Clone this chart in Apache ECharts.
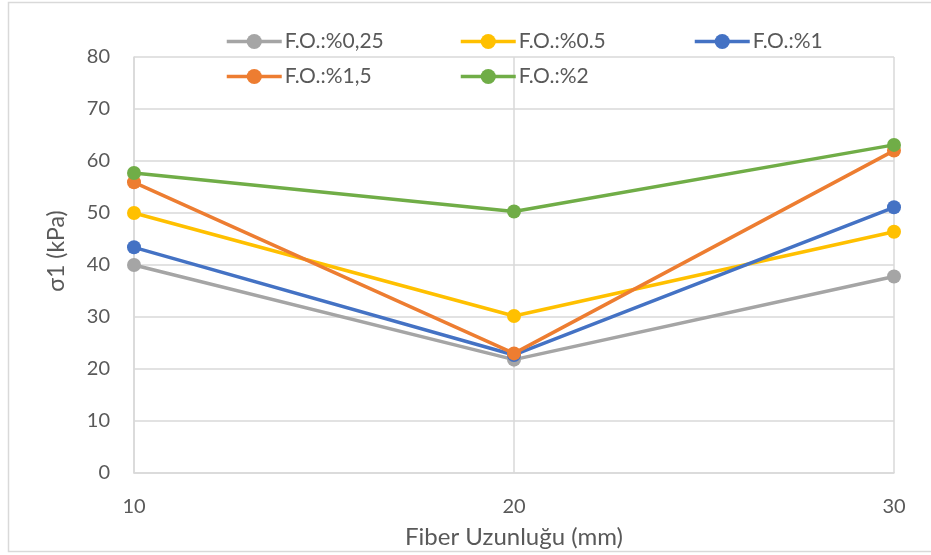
<!DOCTYPE html>
<html>
<head>
<meta charset="utf-8">
<script src="https://cdn.jsdelivr.net/npm/echarts@6/dist/echarts.min.js"></script>
<style>
  html, body { margin: 0; padding: 0; background: #fff; }
  #chart { width: 931px; height: 555px; }
</style>
</head>
<body>
<div id="chart"></div>
<script>
// Fiber length (mm) on the x axis
const fiberLength = [10, 20, 30];

// σ1 (kPa) for each fiber ratio
const fo025 = [40.0, 21.8, 37.8];
const fo05  = [50.0, 30.2, 46.4];
const fo1   = [43.4, 22.7, 51.1];
const fo15  = [55.9, 23.0, 62.0];
const fo2   = [57.7, 50.3, 63.1];

const seriesNames = ['F.O.:%0,25', 'F.O.:%0.5', 'F.O.:%1', 'F.O.:%1,5', 'F.O.:%2'];
const seriesValues = [fo025, fo05, fo1, fo15, fo2];
const colors = ['#A5A5A5', '#FFC000', '#4472C4', '#ED7D31', '#70AD47'];

const FONT = 'Lato';
const TEXT = '#595959';
const GRID = '#D9D9D9';

// legend slots: three columns, two rows
const legendCols = [225, 459, 693];
const legendRows = [31, 66];

const chart = echarts.init(document.getElementById('chart'), null, { renderer: 'canvas' });

const series = seriesNames.map((name, i) => ({
  name: name,
  type: 'line',
  data: fiberLength.map((x, j) => [x, seriesValues[i][j]]),
  symbol: 'circle',
  symbolSize: 14,
  lineStyle: { width: 3.5, color: colors[i] },
  itemStyle: { color: colors[i] },
  emphasis: { disabled: true },
  z: 2 + i
}));

const legends = seriesNames.map((name, i) => ({
  data: [name],
  left: legendCols[i % 3],
  top: legendRows[Math.floor(i / 3)],
  padding: 0,
  itemWidth: 55,
  itemHeight: 19,
  itemGap: 0,
  selectedMode: false,
  lineStyle: { width: 3.5 },
  textStyle: { fontFamily: FONT, fontSize: 21, color: TEXT, padding: [0, 0, 0, -2] }
}));

chart.setOption({
  animation: false,
  backgroundColor: '#fff',
  color: colors,
  graphic: [{
    type: 'rect',
    shape: { x: 8.5, y: 2.5, width: 940, height: 549 },
    style: { fill: 'none', stroke: '#D9D9D9', lineWidth: 1.5 },
    silent: true,
    z: -10
  }],
  legend: legends,
  grid: { left: 134, right: 37, top: 57, bottom: 82, containLabel: false },
  xAxis: {
    type: 'value',
    min: 10, max: 30, interval: 10,
    name: 'Fiber Uzunluğu (mm)',
    nameLocation: 'middle',
    nameGap: 52,
    nameTextStyle: { fontFamily: FONT, fontSize: 24, color: TEXT },
    axisLine: { show: true, lineStyle: { color: GRID, width: 1.5 } },
    axisTick: { show: false },
    axisLabel: { fontFamily: FONT, fontSize: 20, color: TEXT, margin: 24 },
    splitLine: { show: true, lineStyle: { color: GRID, width: 1.5 } }
  },
  yAxis: {
    type: 'value',
    min: 0, max: 80, interval: 10,
    name: 'σ1 (kPa)',
    nameLocation: 'middle',
    nameGap: 66,
    nameTextStyle: { fontFamily: FONT, fontSize: 23, color: TEXT, padding: [0, 0, 0, 28] },
    axisLine: { show: true, lineStyle: { color: GRID, width: 1.5 } },
    axisTick: { show: false },
    axisLabel: { fontFamily: FONT, fontSize: 20, color: TEXT, margin: 24 },
    splitLine: { show: true, lineStyle: { color: GRID, width: 1.5 } }
  },
  series: series
});
</script>
</body>
</html>
